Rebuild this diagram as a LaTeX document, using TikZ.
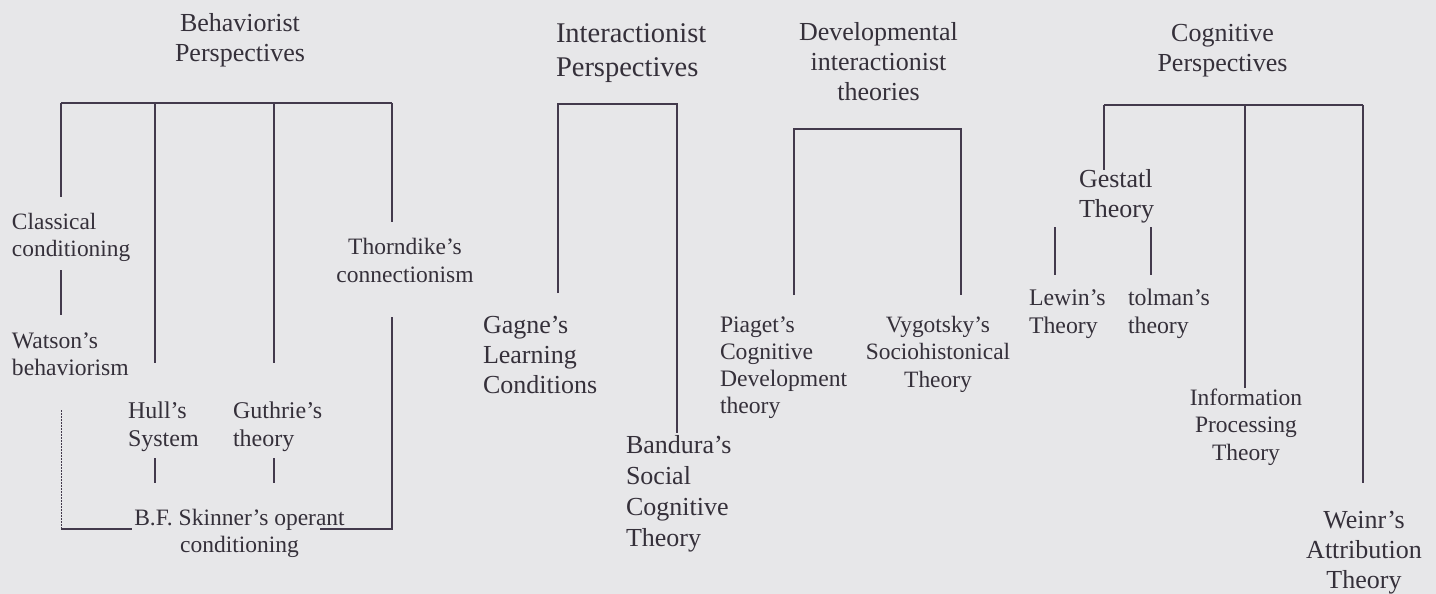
\documentclass[tikz,border=0pt]{standalone}
\usepackage{fontspec}
\setmainfont{Liberation Serif}
\definecolor{bg}{HTML}{E7E7E9}
\definecolor{ink}{HTML}{35303A}
\definecolor{wire}{HTML}{433A4C}
\tikzset{
  lbl/.style 2 args={inner sep=0pt, outer sep=0pt, text=ink, font=\fontsize{#1}{#2}\selectfont},
  lft/.style 2 args={lbl={#1}{#2}, align=left, anchor=base west},
  ctr/.style 2 args={lbl={#1}{#2}, align=center, anchor=base},
  wire/.style={draw=wire, line width=2pt},
  dotwire/.style={draw=wire, line width=1pt, dash pattern=on 2pt off 1pt}
}
\begin{document}
\begin{tikzpicture}[x=1pt,y=-1pt]
\fill[bg] (0,0) rectangle (1436,594);
\useasboundingbox (0,0) rectangle (1436,594);

% (node y = baseline of the LAST line)
% ---------------- Behaviorist ----------------
\node[ctr={26}{30}] (beh) at (240,62) {Behaviorist\\Perspectives};
\node[lft={23.4}{27}] (classical) at (12,256) {Classical\\conditioning};
\node[lft={23.6}{27}] (watson) at (12,375) {Watson’s\\behaviorism};
\node[ctr={23.5}{28}] (thorndike) at (405,282) {Thorndike’s\\connectionism};
\node[lft={24}{28}] (hull) at (128,446) {Hull’s\\System};
\node[lft={24}{28}] (guthrie) at (233,446) {Guthrie’s\\theory};
\node[ctr={23.5}{27}] (skinner) at (239.5,552) {B.F. Skinner’s operant\\conditioning};

\coordinate (bL) at (61,103);
\coordinate (bH) at (155,103);
\coordinate (bG) at (274,103);
\coordinate (bR) at (392,103);
\coordinate (bLend) at (61,197);
\coordinate (bHend) at (155,363);
\coordinate (bGend) at (274,363);
\coordinate (bRend) at (392,222);
\draw[wire] (bL) -- (bR);
\draw[wire] (bL) -- (bLend);
\draw[wire] (bH) -- (bHend);
\draw[wire] (bG) -- (bGend);
\draw[wire] (bR) -- (bRend);

\coordinate (cw1) at (61,270);
\coordinate (cw2) at (61,315);
\draw[wire] (cw1) -- (cw2);

\coordinate (hs1) at (155,458);
\coordinate (hs2) at (155,483);
\coordinate (gs1) at (274,458);
\coordinate (gs2) at (274,483);
\draw[wire] (hs1) -- (hs2);
\draw[wire] (gs1) -- (gs2);

\coordinate (ws1) at (61,410);
\coordinate (ws2) at (61,529);
\coordinate (ws3) at (132,529);
\draw[dotwire] (ws1) -- (ws2);
\draw[wire] (ws2) -- (ws3);

\coordinate (ts1) at (392,317);
\coordinate (ts2) at (392,529);
\coordinate (ts3) at (320,529);
\draw[wire] (ts1) -- (ts2) -- (ts3);

% ---------------- Interactionist ----------------
\node[lft={28.5}{34}] (inter) at (556,77) {Interactionist\\Perspectives};
\node[lft={26}{30}] (gagne) at (483,393) {Gagne’s\\Learning\\Conditions};
\node[lft={26}{31}] (bandura) at (626,546) {Bandura’s\\Social\\Cognitive\\Theory};

\coordinate (iL) at (558,104);
\coordinate (iR) at (677,104);
\coordinate (iLend) at (558,293);
\coordinate (iRend) at (677,433);
\draw[wire] (iLend) -- (iL) -- (iR) -- (iRend);

% ---------------- Developmental ----------------
\node[ctr={26}{30}] (dev) at (878.5,100) {Developmental\\interactionist\\theories};
\node[lft={23.6}{27}] (piaget) at (720,413) {Piaget’s\\Cognitive\\Development\\theory};
\node[ctr={23.4}{27.5}] (vygotsky) at (938,387) {Vygotsky’s\\Sociohistonical\\Theory};

\coordinate (dL) at (794,129);
\coordinate (dR) at (961,129);
\coordinate (dLend) at (794,295);
\coordinate (dRend) at (961,295);
\draw[wire] (dLend) -- (dL) -- (dR) -- (dRend);

% ---------------- Cognitive ----------------
\node[ctr={26}{31}] (cog) at (1222.5,72) {Cognitive\\Perspectives};
\node[lft={26}{30}] (gestalt) at (1079,217) {Gestatl\\Theory};
\node[lft={23.8}{28}] (lewin) at (1029,333) {Lewin’s\\Theory};
\node[lft={23.8}{28}] (tolman) at (1128,333) {tolman’s\\theory};
\node[ctr={23.5}{27.5}] (info) at (1246,460) {Information\\Processing\\Theory};
\node[ctr={26}{30}] (weinr) at (1364,588) {Weinr’s\\Attribution\\Theory};

\coordinate (cL) at (1104,105);
\coordinate (cM) at (1245,105);
\coordinate (cR) at (1363,105);
\coordinate (cLend) at (1104,170);
\coordinate (cMend) at (1245,388);
\coordinate (cRend) at (1363,483);
\draw[wire] (cL) -- (cR);
\draw[wire] (cL) -- (cLend);
\draw[wire] (cM) -- (cMend);
\draw[wire] (cR) -- (cRend);

\coordinate (lw1) at (1055,227);
\coordinate (lw2) at (1055,275);
\coordinate (tl1) at (1151,227);
\coordinate (tl2) at (1151,275);
\draw[wire] (lw1) -- (lw2);
\draw[wire] (tl1) -- (tl2);
\end{tikzpicture}
\end{document}
